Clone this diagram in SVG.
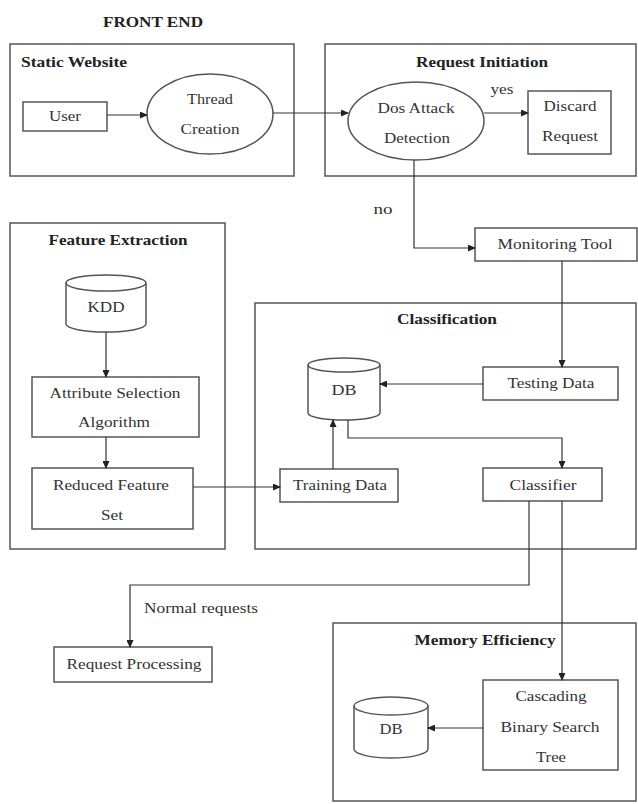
<svg xmlns="http://www.w3.org/2000/svg" width="638" height="804" viewBox="0 0 638 804">
<style>
.bg{fill:#ffffff}
.frame{fill:none;stroke:#555;stroke-width:1.5}
.box{fill:#fff;stroke:#555;stroke-width:1.5}
.t{font-family:"Liberation Serif","DejaVu Serif","Times New Roman",serif;font-size:14px;font-weight:normal;fill:#333;text-anchor:middle}
.b{font-family:"Liberation Serif","DejaVu Serif","Times New Roman",serif;font-size:14px;font-weight:bold;fill:#222;text-anchor:middle}
.c{fill:none;stroke:#333;stroke-width:1.2}
.top{fill:none;stroke:#555;stroke-width:1.5}
</style>
<defs>
<marker id="ah" markerWidth="8" markerHeight="7" refX="7" refY="3.5" orient="auto" markerUnits="userSpaceOnUse">
<path d="M0,0 L8,3.5 L0,7 Z" fill="#222"/>
</marker>
</defs>
<rect class="bg" x="0" y="0" width="638" height="804"/>

<text class="b" x="153" y="27" textLength="100" lengthAdjust="spacingAndGlyphs">FRONT END</text>

<g id="static-website">
<rect class="frame" x="10" y="44" width="284" height="132"/>
<text class="b" x="74" y="67" textLength="106" lengthAdjust="spacingAndGlyphs">Static Website</text>
</g>
<g id="user">
<rect class="box" x="23" y="102" width="84" height="29"/>
<text class="t" x="65" y="121" textLength="32" lengthAdjust="spacingAndGlyphs">User</text>
</g>
<g id="thread-creation">
<ellipse class="box" cx="210" cy="114" rx="63" ry="40"/>
<text class="t" x="210" y="104" textLength="46" lengthAdjust="spacingAndGlyphs">Thread</text>
<text class="t" x="210" y="134" textLength="59" lengthAdjust="spacingAndGlyphs">Creation</text>
</g>

<g id="request-initiation">
<rect class="frame" x="325" y="44" width="311" height="132"/>
<text class="b" x="482" y="67" textLength="132" lengthAdjust="spacingAndGlyphs">Request Initiation</text>
</g>
<g id="dos-attack-detection">
<ellipse class="box" cx="416" cy="121" rx="68" ry="39"/>
<text class="t" x="416" y="113" textLength="77" lengthAdjust="spacingAndGlyphs">Dos Attack</text>
<text class="t" x="417" y="143" textLength="66" lengthAdjust="spacingAndGlyphs">Detection</text>
</g>
<g id="discard-request">
<rect class="box" x="528" y="91" width="83" height="63"/>
<text class="t" x="570" y="111" textLength="53" lengthAdjust="spacingAndGlyphs">Discard</text>
<text class="t" x="570" y="141" textLength="56" lengthAdjust="spacingAndGlyphs">Request</text>
</g>

<g id="feature-extraction">
<rect class="frame" x="10" y="223" width="215" height="326"/>
<text class="b" x="118" y="245" textLength="139" lengthAdjust="spacingAndGlyphs">Feature Extraction</text>
</g>
<g id="kdd">
<path class="box" d="M66,283 A40,8 0 0 1 146,283 V324 A40,8 0 0 1 66,324 Z"/>
<path class="top" d="M66,283 A40,8 0 0 0 146,283"/>
<text class="t" x="106" y="312" textLength="37" lengthAdjust="spacingAndGlyphs">KDD</text>
</g>
<g id="attribute-selection">
<rect class="box" x="32" y="377" width="167" height="60"/>
<text class="t" x="115" y="398" textLength="131" lengthAdjust="spacingAndGlyphs">Attribute Selection</text>
<text class="t" x="114" y="427" textLength="72" lengthAdjust="spacingAndGlyphs">Algorithm</text>
</g>
<g id="reduced-feature-set">
<rect class="box" x="32" y="468" width="161" height="61"/>
<text class="t" x="111" y="490" textLength="116" lengthAdjust="spacingAndGlyphs">Reduced Feature</text>
<text class="t" x="112" y="520" textLength="22" lengthAdjust="spacingAndGlyphs">Set</text>
</g>

<g id="monitoring-tool">
<rect class="box" x="475" y="228" width="162" height="33"/>
<text class="t" x="555" y="249" textLength="115" lengthAdjust="spacingAndGlyphs">Monitoring Tool</text>
</g>

<g id="classification">
<rect class="frame" x="255" y="303" width="381" height="246"/>
<text class="b" x="447" y="324" textLength="100" lengthAdjust="spacingAndGlyphs">Classification</text>
</g>
<g id="db-classification">
<path class="box" d="M308,365 A36,7 0 0 1 380,365 V413 A36,7 0 0 1 308,413 Z"/>
<path class="top" d="M308,365 A36,7 0 0 0 380,365"/>
<text class="t" x="344" y="395" textLength="25" lengthAdjust="spacingAndGlyphs">DB</text>
</g>
<g id="testing-data">
<rect class="box" x="483" y="367" width="135" height="33"/>
<text class="t" x="551" y="388" textLength="87" lengthAdjust="spacingAndGlyphs">Testing Data</text>
</g>
<g id="training-data">
<rect class="box" x="280" y="469" width="118" height="33"/>
<text class="t" x="340" y="490" textLength="94" lengthAdjust="spacingAndGlyphs">Training Data</text>
</g>
<g id="classifier">
<rect class="box" x="483" y="468" width="119" height="33"/>
<text class="t" x="543" y="490" textLength="67" lengthAdjust="spacingAndGlyphs">Classifier</text>
</g>

<g id="request-processing">
<rect class="box" x="54" y="647" width="158" height="35"/>
<text class="t" x="134" y="669" textLength="135" lengthAdjust="spacingAndGlyphs">Request Processing</text>
</g>

<g id="memory-efficiency">
<rect class="frame" x="333" y="623" width="303" height="178"/>
<text class="b" x="485" y="645" textLength="141" lengthAdjust="spacingAndGlyphs">Memory Efficiency</text>
</g>
<g id="cascading-bst">
<rect class="box" x="483" y="680" width="135" height="90"/>
<text class="t" x="551" y="701" textLength="71" lengthAdjust="spacingAndGlyphs">Cascading</text>
<text class="t" x="550" y="732" textLength="99" lengthAdjust="spacingAndGlyphs">Binary Search</text>
<text class="t" x="551" y="762" textLength="30" lengthAdjust="spacingAndGlyphs">Tree</text>
</g>
<g id="db-memory">
<path class="box" d="M354,706 A37,9 0 0 1 428,706 V749 A37,9 0 0 1 354,749 Z"/>
<path class="top" d="M354,706 A37,9 0 0 0 428,706"/>
<text class="t" x="391" y="734" textLength="23" lengthAdjust="spacingAndGlyphs">DB</text>
</g>

<g id="connectors">
<path class="c" d="M107,115 H147" marker-end="url(#ah)"/>
<path class="c" d="M273,113 H348" marker-end="url(#ah)"/>
<path class="c" d="M484,113 H528" marker-end="url(#ah)"/>
<path class="c" d="M414,160 V248 H475" marker-end="url(#ah)"/>
<path class="c" d="M562,261 V367" marker-end="url(#ah)"/>
<path class="c" d="M483,384 H380" marker-end="url(#ah)"/>
<path class="c" d="M106,332 V377" marker-end="url(#ah)"/>
<path class="c" d="M106,437 V468" marker-end="url(#ah)"/>
<path class="c" d="M193,487 H280" marker-end="url(#ah)"/>
<path class="c" d="M333,469 V420" marker-end="url(#ah)"/>
<path class="c" d="M348,420 V438 H562 V468" marker-end="url(#ah)"/>
<path class="c" d="M529,501 V585 H130 V647" marker-end="url(#ah)"/>
<path class="c" d="M562,501 V680" marker-end="url(#ah)"/>
<path class="c" d="M483,728 H428" marker-end="url(#ah)"/>
<text class="t" x="502" y="94" textLength="23" lengthAdjust="spacingAndGlyphs">yes</text>
<text class="t" x="383" y="214" textLength="19" lengthAdjust="spacingAndGlyphs">no</text>
<text class="t" x="201" y="613" textLength="114" lengthAdjust="spacingAndGlyphs">Normal requests</text>
</g>
</svg>
